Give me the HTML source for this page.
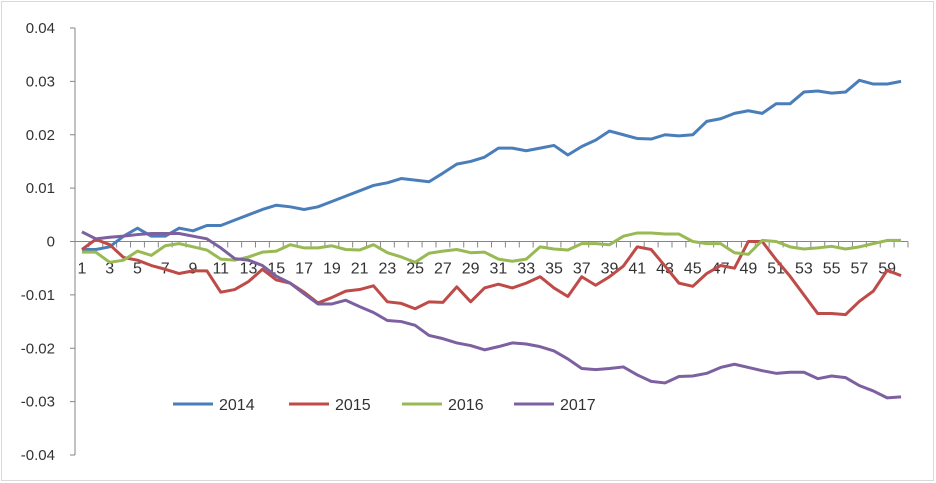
<!DOCTYPE html>
<html><head><meta charset="utf-8"><style>
body{margin:0;background:#fff}
svg{display:block;font-family:"Liberation Sans",sans-serif}
</style></head><body>
<svg id="c" width="936" height="483">
<rect x="1.5" y="1.5" width="932" height="479" fill="#fff" stroke="#d9d9d9"/>
</svg>
<script>
const categories = Array.from({length:60},(_,i)=>i+1);
const yTicks = [0.04,0.03,0.02,0.01,0,-0.01,-0.02,-0.03,-0.04];
const yTickLabels = ["0.04","0.03","0.02","0.01","0","-0.01","-0.02","-0.03","-0.04"];
const seriesNames = ["2014","2015","2016","2017"];
const seriesColors = ["#4a7ebb","#be4b48","#98b954","#7d60a0"];
const s2014 = [-0.0015,-0.0015,-0.001,0.001,0.0025,0.001,0.001,0.0025,0.002,0.003,0.003,0.004,0.005,0.006,0.0068,0.0065,0.006,0.0065,0.0075,0.0085,0.0095,0.0105,0.011,0.0118,0.0115,0.0112,0.0128,0.0145,0.015,0.0158,0.0175,0.0175,0.017,0.0175,0.018,0.0162,0.0178,0.019,0.0207,0.02,0.0193,0.0192,0.02,0.0198,0.02,0.0225,0.023,0.024,0.0245,0.024,0.0258,0.0258,0.028,0.0282,0.0278,0.028,0.0302,0.0295,0.0295,0.03];
const s2015 = [-0.0015,0.0004,-0.0006,-0.003,-0.0035,-0.0045,-0.0052,-0.006,-0.0055,-0.0055,-0.0095,-0.009,-0.0075,-0.0052,-0.0072,-0.0078,-0.0095,-0.0115,-0.0105,-0.0093,-0.009,-0.0083,-0.0113,-0.0116,-0.0126,-0.0113,-0.0114,-0.0085,-0.0113,-0.0087,-0.008,-0.0087,-0.0078,-0.0066,-0.0087,-0.0103,-0.0066,-0.0082,-0.0066,-0.0046,-0.001,-0.0015,-0.0046,-0.0078,-0.0084,-0.006,-0.0045,-0.005,0,0,-0.0034,-0.0065,-0.01,-0.0135,-0.0135,-0.0137,-0.0112,-0.0093,-0.0054,-0.0064];
const s2016 = [-0.002,-0.002,-0.0039,-0.0035,-0.0018,-0.0026,-0.0008,-0.0004,-0.001,-0.0016,-0.0033,-0.0035,-0.0029,-0.002,-0.0018,-0.0006,-0.0012,-0.0012,-0.0008,-0.0015,-0.0016,-0.0006,-0.0021,-0.0029,-0.0039,-0.0022,-0.0018,-0.0015,-0.0021,-0.002,-0.0033,-0.0037,-0.0033,-0.001,-0.0014,-0.0016,-0.0004,-0.0004,-0.0006,0.001,0.0016,0.0016,0.0014,0.0014,0,-0.0004,-0.0004,-0.0021,-0.0024,0.0002,0,-0.001,-0.0014,-0.0012,-0.0009,-0.0014,-0.001,-0.0004,0.0002,0.0002];
const s2017 = [0.0018,0.0005,0.0008,0.001,0.0013,0.0015,0.0015,0.0015,0.001,0.0005,-0.0012,-0.0032,-0.0035,-0.0045,-0.0065,-0.0078,-0.0098,-0.0117,-0.0117,-0.011,-0.0122,-0.0133,-0.0148,-0.015,-0.0157,-0.0176,-0.0182,-0.019,-0.0195,-0.0203,-0.0197,-0.019,-0.0192,-0.0197,-0.0205,-0.022,-0.0238,-0.024,-0.0238,-0.0235,-0.025,-0.0262,-0.0265,-0.0253,-0.0252,-0.0247,-0.0236,-0.023,-0.0236,-0.0242,-0.0247,-0.0245,-0.0245,-0.0257,-0.0252,-0.0255,-0.027,-0.028,-0.0293,-0.0291];
const allSeries = [s2014,s2015,s2016,s2017];

const NS="http://www.w3.org/2000/svg", svg=document.getElementById('c');
const X0=75, X1=908, Y0=28, Y1=455, yMax=0.04, yMin=-0.04;
const bw=(X1-X0)/categories.length;
const xPos=i=>X0+(i+0.5)*bw;
const yPos=v=>Y0+(yMax-v)/(yMax-yMin)*(Y1-Y0);
function mk(t,a){const e=document.createElementNS(NS,t);for(const k in a)e.setAttribute(k,a[k]);svg.appendChild(e);return e;}

let ax=mk('line',{x1:X0,y1:Y0,x2:X0,y2:Y1,stroke:'#868686','stroke-width':1});


yTicks.forEach((v,i)=>{
  const y=yPos(v);
  const t=mk('line',{x1:X0-5,y1:y,x2:X0,y2:y,stroke:'#868686'});
  
  
  const l=mk('text',{x:X0-20,y:y+5,'text-anchor':'end','font-size':15,fill:'#333'});
  l.textContent=yTickLabels[i];
  
  
});
const y0=yPos(0);
let xa=mk('line',{x1:X0,y1:y0,x2:X1,y2:y0,stroke:'#868686'});


for(let i=0;i<=categories.length;i++){
  const t=mk('line',{x1:X0+i*bw,y1:y0,x2:X0+i*bw,y2:y0+6,stroke:'#868686'});
  
  
}
categories.forEach((c,i)=>{
  if(i%2) return;
  const l=mk('text',{x:xPos(i),y:y0+32,'text-anchor':'middle','font-size':16,fill:'#333'});
  l.textContent=c;
  
  
});
allSeries.forEach((s,k)=>{
  const p=mk('polyline',{points:s.map((v,i)=>xPos(i)+','+yPos(v)).join(' '),fill:'none',stroke:seriesColors[k],'stroke-width':3,'stroke-linejoin':'round'});
  
  
});
const legX=[173,289,402,514];
seriesNames.forEach((n,k)=>{
  const l=mk('line',{x1:legX[k],y1:404,x2:legX[k]+40,y2:404,stroke:seriesColors[k],'stroke-width':3});
  
  
  const t=mk('text',{x:legX[k]+46,y:410,'font-size':16,fill:'#333'});
  t.textContent=n;
  
  
});
</script>
</body></html>
